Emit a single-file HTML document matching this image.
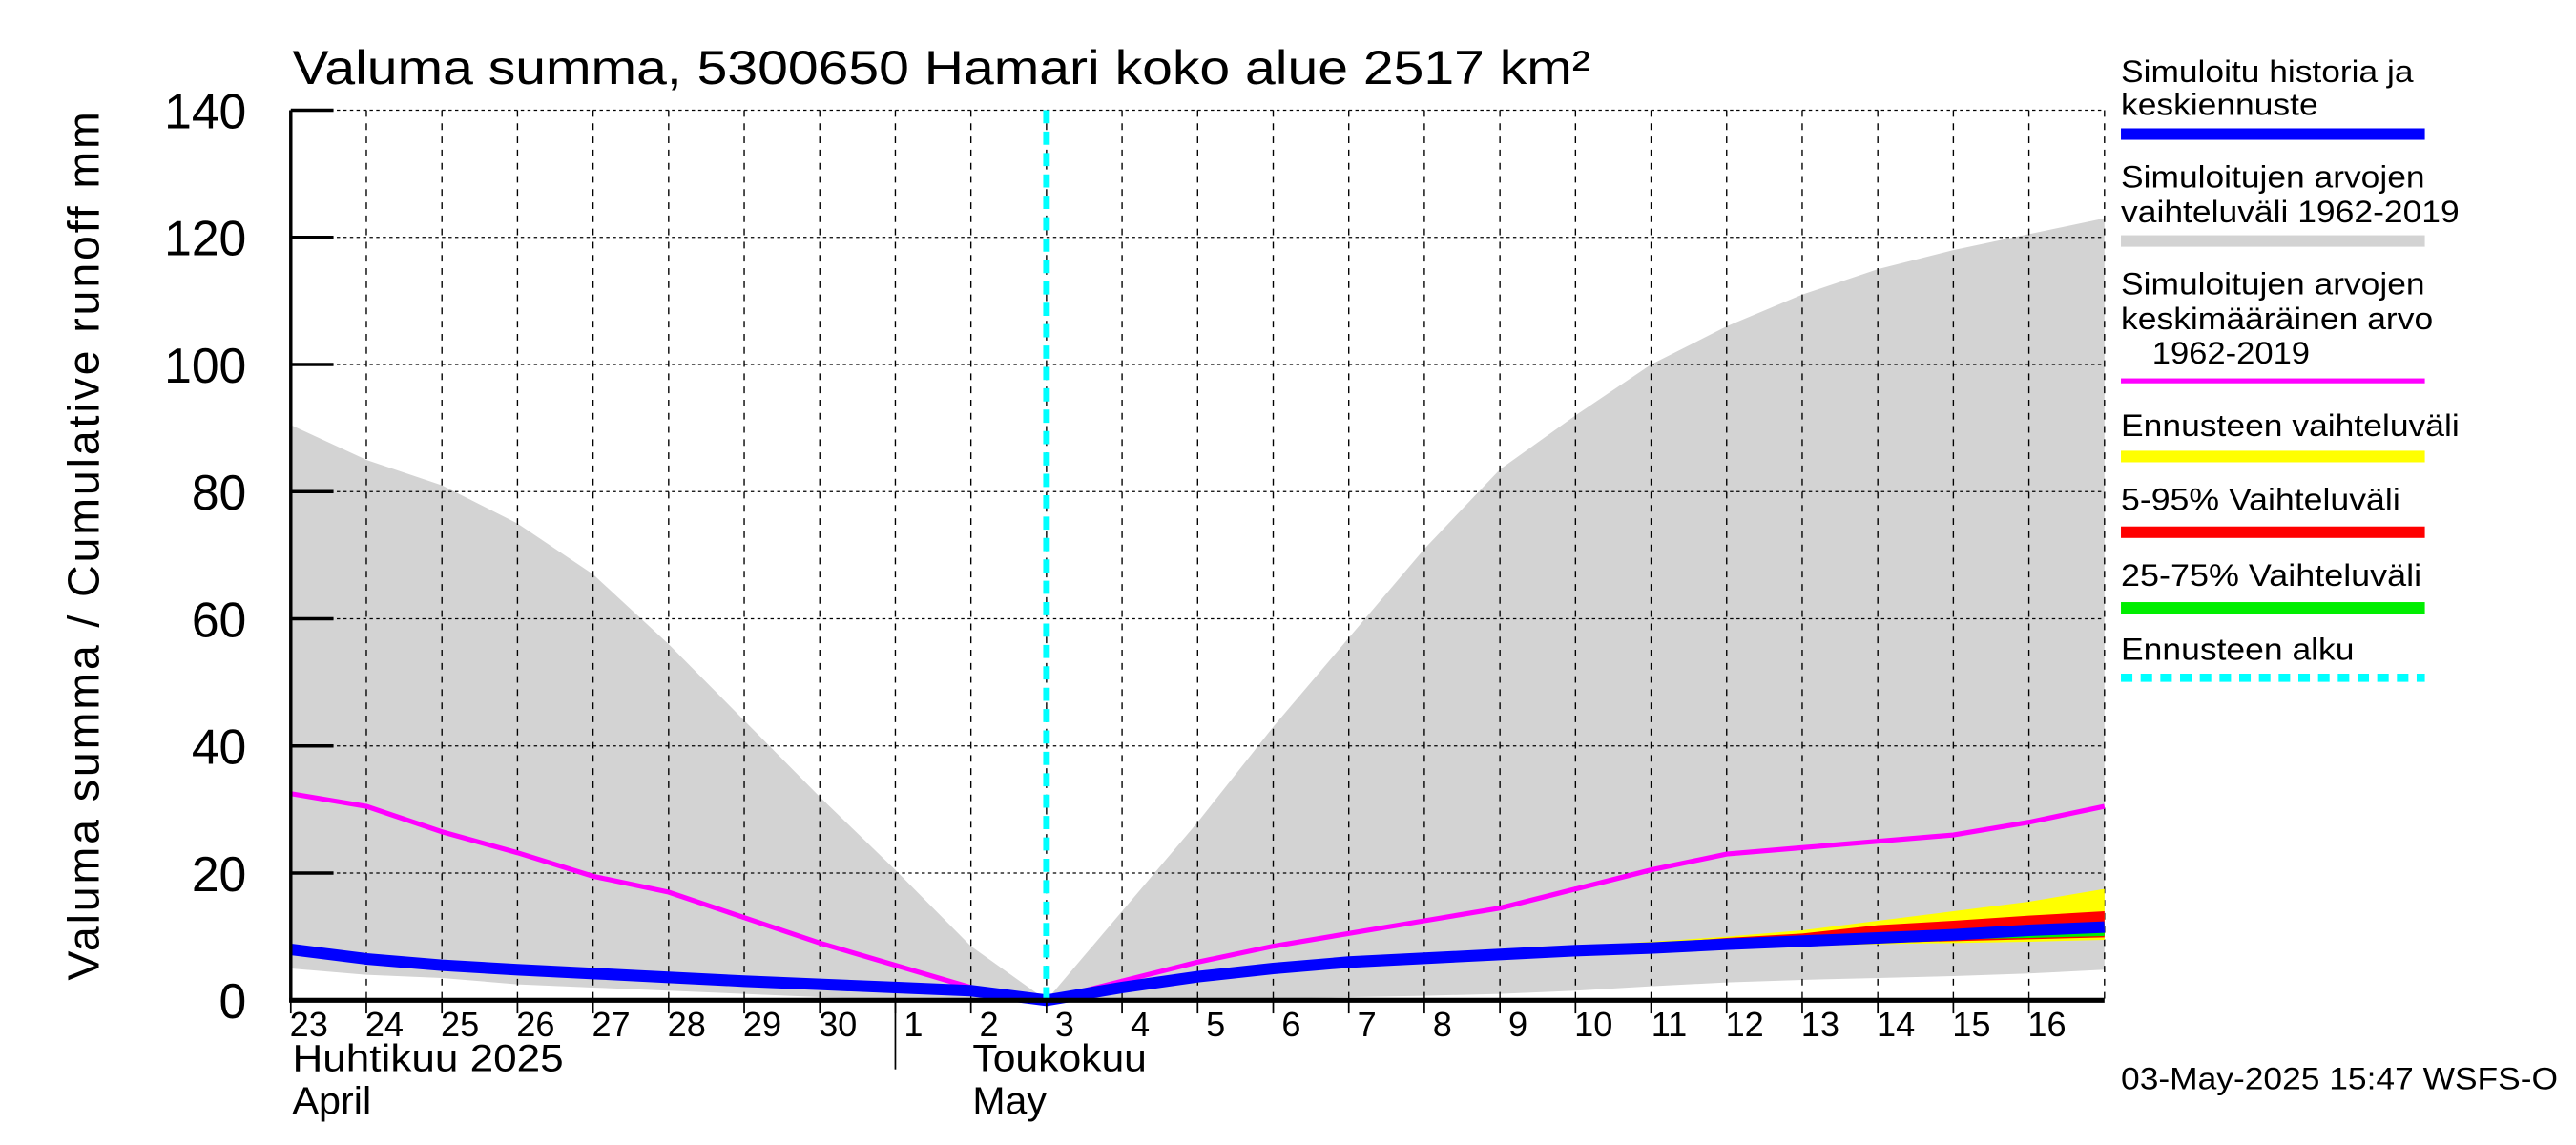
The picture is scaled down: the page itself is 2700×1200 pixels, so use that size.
<!DOCTYPE html>
<html><head><meta charset="utf-8"><style>
html,body{margin:0;padding:0;background:#fff;}
svg{display:block;font-family:"Liberation Sans",sans-serif;}
</style></head><body>
<svg id="chart" width="2700" height="1200" viewBox="0 0 1568 696" preserveAspectRatio="none" xmlns="http://www.w3.org/2000/svg">
<g id="bg"></g>
<g id="grid"></g>
<g id="series"></g>
<g id="axes"></g>
<text x="178" y="51" font-size="29" textLength="790" lengthAdjust="spacingAndGlyphs">Valuma summa, 5300650 Hamari koko alue 2517 km²</text>
<text transform="translate(60 596) rotate(-90)" font-size="27" textLength="528" lengthAdjust="spacing">Valuma summa / Cumulative runoff    mm</text>
<text x="178" y="651" font-size="23" textLength="165" lengthAdjust="spacingAndGlyphs">Huhtikuu  2025</text>
<text x="178" y="677" font-size="23" textLength="48" lengthAdjust="spacingAndGlyphs">April</text>
<text x="592" y="651" font-size="23" textLength="106" lengthAdjust="spacingAndGlyphs">Toukokuu</text>
<text x="592" y="677" font-size="23" textLength="45" lengthAdjust="spacingAndGlyphs">May</text>
<line x1="545" y1="608" x2="545" y2="650" stroke="#000" stroke-width="1"/>
<text x="1291" y="662" font-size="19" textLength="266" lengthAdjust="spacingAndGlyphs">03-May-2025 15:47 WSFS-O</text>
<g font-size="19">
<text x="1291" y="50" textLength="178" lengthAdjust="spacingAndGlyphs">Simuloitu historia ja</text><text x="1291" y="70" textLength="120" lengthAdjust="spacingAndGlyphs">keskiennuste</text>
<rect x="1291" y="78" width="185" height="7" fill="#0000ff"/>
<text x="1291" y="114" textLength="185" lengthAdjust="spacingAndGlyphs">Simuloitujen arvojen</text><text x="1291" y="135" textLength="206" lengthAdjust="spacingAndGlyphs">vaihteluväli 1962-2019</text>
<rect x="1291" y="143" width="185" height="7" fill="#d3d3d3"/>
<text x="1291" y="179" textLength="185" lengthAdjust="spacingAndGlyphs">Simuloitujen arvojen</text><text x="1291" y="200" textLength="190" lengthAdjust="spacingAndGlyphs">keskimääräinen arvo</text><text x="1310" y="221" textLength="96" lengthAdjust="spacingAndGlyphs">1962-2019</text>
<rect x="1291" y="230" width="185" height="3" fill="#ff00ff"/>
<text x="1291" y="265" textLength="206" lengthAdjust="spacingAndGlyphs">Ennusteen vaihteluväli</text>
<rect x="1291" y="274" width="185" height="7" fill="#ffff00"/>
<text x="1291" y="310" textLength="170" lengthAdjust="spacingAndGlyphs">5-95% Vaihteluväli</text>
<rect x="1291" y="320" width="185" height="7" fill="#ff0000"/>
<text x="1291" y="356" textLength="183" lengthAdjust="spacingAndGlyphs">25-75% Vaihteluväli</text>
<rect x="1291" y="366" width="185" height="7" fill="#00ee00"/>
<text x="1291" y="401" textLength="142" lengthAdjust="spacingAndGlyphs">Ennusteen alku</text>
<line x1="1291" y1="412" x2="1476" y2="412" stroke="#00ffff" stroke-width="5" stroke-dasharray="7 5"/>
</g>
</svg>
<script>
const dayLabels=["23","24","25","26","27","28","29","30","1","2","3","4","5","6","7","8","9","10","11","12","13","14","15","16"];
const yTicks=[0,20,40,60,80,100,120,140];
const simMax=[90.5,85,81,75,67,56,44,32,20.5,8.5,0,14,28,43,57,71,83.5,92,100,106,111,115,118,120.5,123];
const simMin=[5,4,3.5,2.5,2,1.5,1,0.5,0,0,0,0,0,0.2,0.5,0.7,1,1.5,2.2,2.8,3.2,3.5,3.8,4.2,4.8];
const simMean=[32.5,30.5,26.5,23.2,19.5,17,13,9,5.5,2,0,3,6,8.5,10.5,12.5,14.5,17.5,20.5,23,24,25,26,28,30.5];
const history=[8,6.5,5.5,4.8,4.2,3.6,3,2.5,2,1.5,0,2,3.7,5,6,6.6,7.2,7.8,8.2,8.8,9.3,9.8,10.3,11,11.5];
const fcMax=[0,2.2,3.9,5.2,6.3,7.1,7.8,8.5,9.2,10,11,12.5,14,15.5,17.5];
const fcMin=[0,1.8,3.5,4.8,5.7,6.2,6.8,7.3,7.7,8.2,8.5,8.8,9,9.2,9.5];
const p95=[0,2.1,3.8,5.1,6.2,6.9,7.6,8.3,8.9,9.8,10.5,11.8,12.5,13.3,14];
const p5=[0,1.9,3.6,4.9,5.8,6.3,6.9,7.4,7.9,8.3,8.7,9,9.3,9.6,9.9];
const p75=[0,2,3.75,5,6.05,6.7,7.3,7.9,8.4,9,9.6,10.2,10.9,11.5,12];
const p25=[0,2,3.65,4.95,5.95,6.5,7.1,7.7,8,8.5,8.9,9.3,9.6,9.8,10.1];
const fcStart=10;
const X=d=>177+46*d, Y=v=>608-v*(541/140);
const NS="http://www.w3.org/2000/svg";
function mk(parent,tag,attrs){const e=document.createElementNS(NS,tag);for(const k in attrs)e.setAttribute(k,attrs[k]);document.getElementById(parent).appendChild(e);return e;}
function line(arr,off){return arr.map((v,i)=>(i?"L":"M")+X(i+off)+","+Y(v)).join("");}
function band(up,lo,off){let p=up.map((v,i)=>(i?"L":"M")+X(i+off)+","+Y(v)).join("");for(let i=lo.length-1;i>=0;i--)p+="L"+X(i+off)+","+Y(lo[i]);return p+"Z";}
let e;
e=mk("bg","path",{d:band(simMax,simMin,0),fill:"#d3d3d3"});


for(let i=1;i<=24;i++){
 e=mk("grid","line",{x1:X(i),x2:X(i),y1:Y(140),y2:Y(0),stroke:"#000","stroke-width":0.8,"stroke-dasharray":"4 4"});
 
 
}
yTicks.forEach(t=>{if(t===0)return;
 e=mk("grid","line",{x1:177,x2:1281,y1:Y(t),y2:Y(t),stroke:"#000","stroke-width":0.7,"stroke-dasharray":"2 2"});
 
 
});
e=mk("series","path",{d:band(fcMax,fcMin,fcStart),fill:"#ffff00"});


e=mk("series","path",{d:band(p95,p5,fcStart),fill:"#ff0000"});


e=mk("series","path",{d:band(p75,p25,fcStart),fill:"#00ee00"});


e=mk("series","path",{d:line(simMean,0),fill:"none",stroke:"#ff00ff","stroke-width":3});


e=mk("series","path",{d:line(history,0),fill:"none",stroke:"#0000ff","stroke-width":7});


e=mk("series","line",{x1:X(fcStart),x2:X(fcStart),y1:Y(140),y2:Y(0),stroke:"#00ffff","stroke-width":4,"stroke-dasharray":"8 5"});


e=mk("axes","line",{x1:177,x2:177,y1:Y(140),y2:Y(0)+1,stroke:"#000","stroke-width":2});


e=mk("axes","line",{x1:176,x2:1281,y1:Y(0),y2:Y(0),stroke:"#000","stroke-width":3});


yTicks.forEach(t=>{
 e=mk("axes","line",{x1:177,x2:203,y1:Y(t),y2:Y(t),stroke:"#000","stroke-width":2});
 
 
 e=mk("axes","text",{x:150,y:Y(t)+11,"text-anchor":"end","font-size":30});
 e.textContent=t;
 
 
});
dayLabels.forEach((l,i)=>{
 e=mk("axes","line",{x1:X(i),x2:X(i),y1:Y(0),y2:Y(0)+8,stroke:"#000","stroke-width":1});
 
 
 e=mk("axes","text",{x:X(i)+11,y:630,"text-anchor":"middle","font-size":21});
 e.textContent=l;
 
 
});
</script>
</body></html>
